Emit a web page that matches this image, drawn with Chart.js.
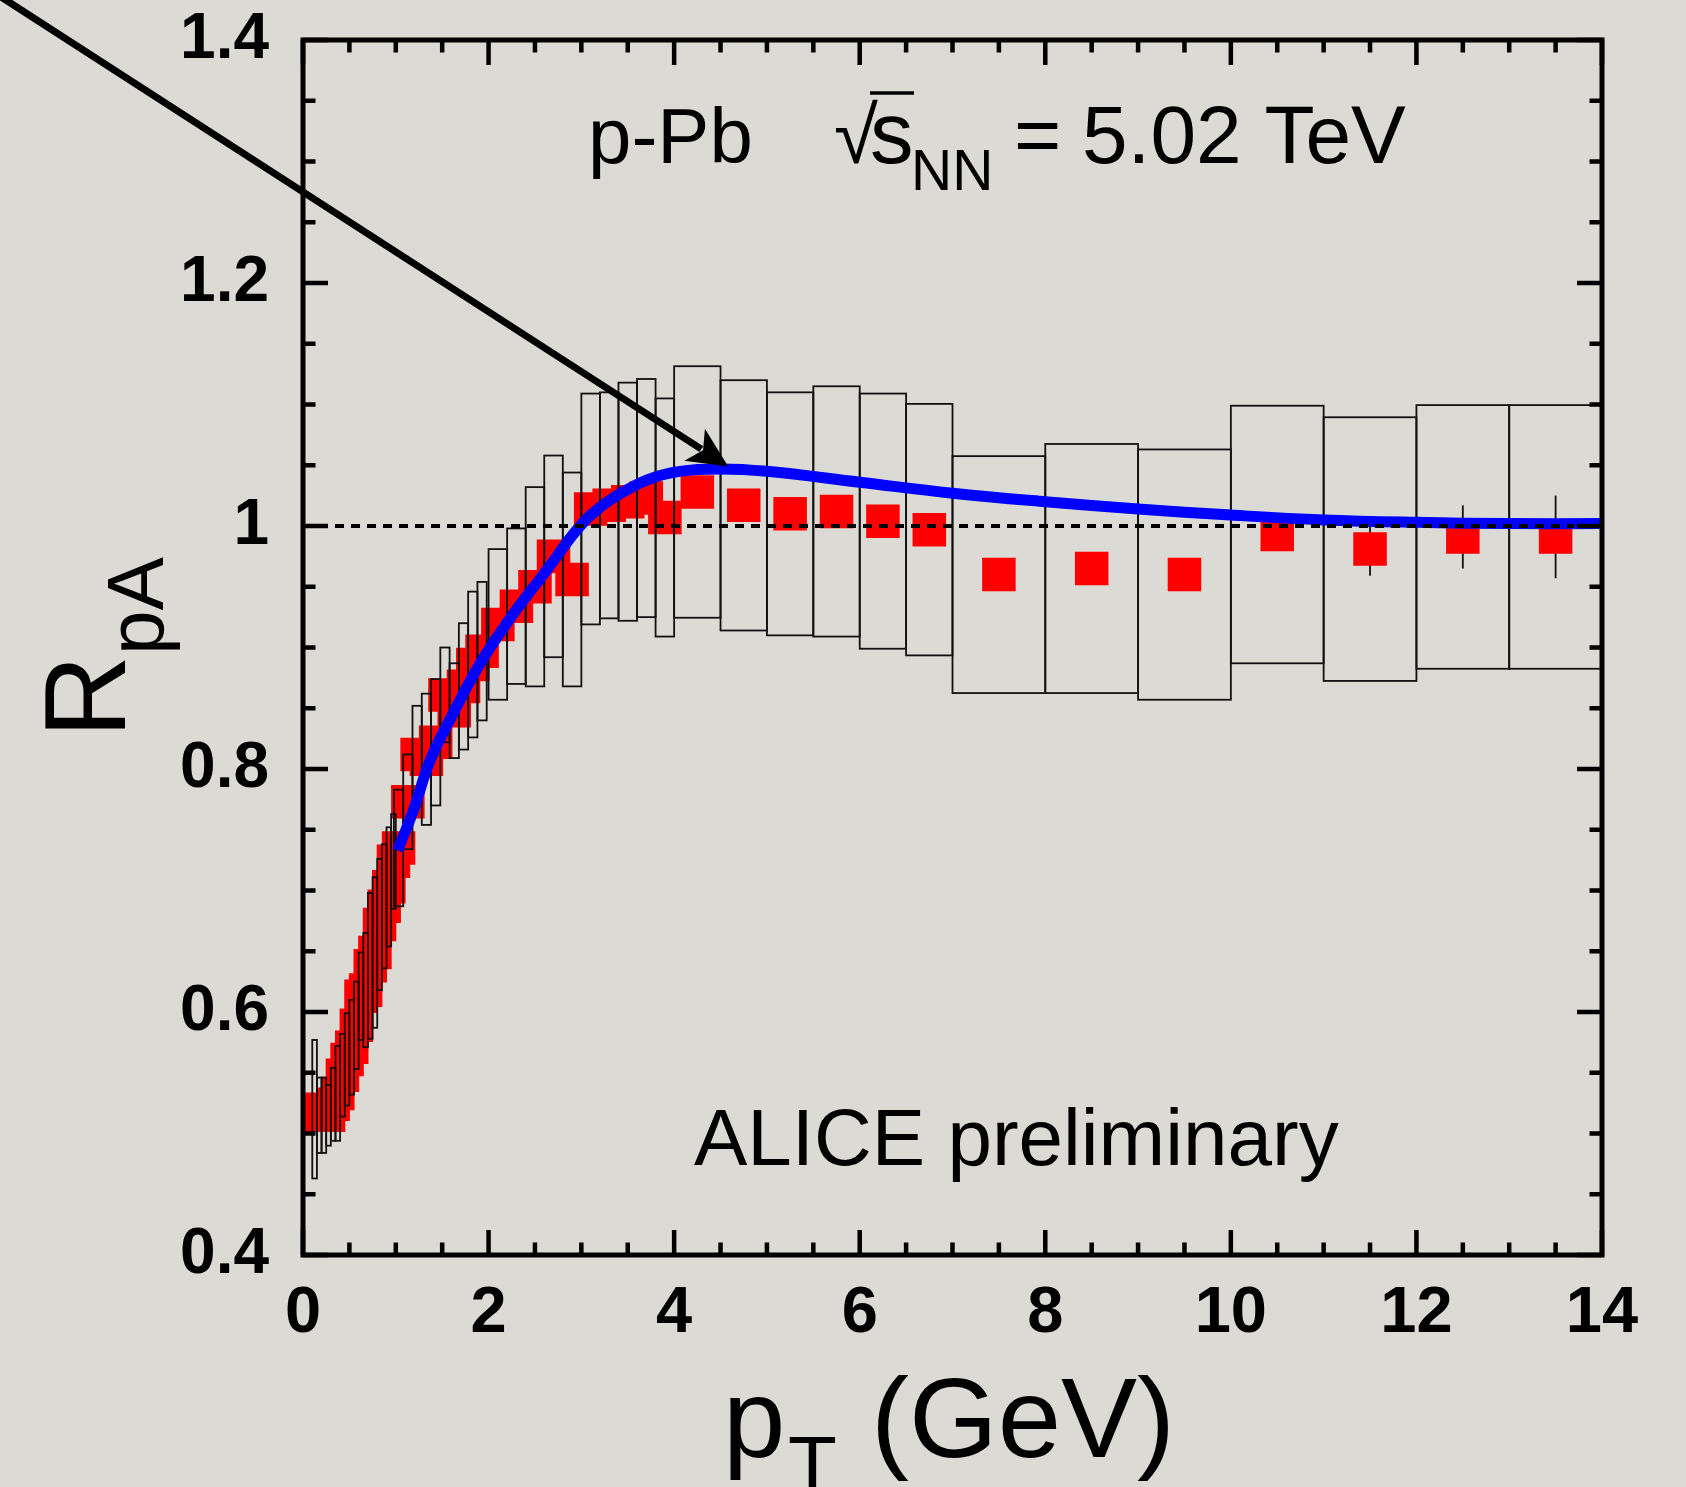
<!DOCTYPE html>
<html><head><meta charset="utf-8">
<script src="https://cdn.jsdelivr.net/npm/chart.js@4.4.1/dist/chart.umd.min.js"></script>
<style>html,body{margin:0;padding:0;background:#dcdad4;} canvas{display:block;}</style>
</head><body>
<canvas id="c" width="1686" height="1487"></canvas>
<script>
// ---------- data ----------
const ptCenters = [0.125,0.175,0.225,0.275,0.325,0.375,0.425,0.475,0.525,0.575,0.625,0.675,0.725,0.775,0.825,0.875,0.925,0.975,
  1.03,1.13,1.23,1.33,1.43,1.53,1.63,1.73,1.83,1.93,
  2.1,2.3,2.5,2.7,2.9,3.1,3.3,3.5,3.7,3.9,
  4.25,4.75,5.25,5.75,6.25,6.75,
  7.5,8.5,9.5,10.5,11.5,12.5,13.5];
const binWidths = [0.05,0.05,0.05,0.05,0.05,0.05,0.05,0.05,0.05,0.05,0.05,0.05,0.05,0.05,0.05,0.05,0.05,0.05,
  0.1,0.1,0.1,0.1,0.1,0.1,0.1,0.1,0.1,0.1,
  0.2,0.2,0.2,0.2,0.2,0.2,0.2,0.2,0.2,0.2,
  0.5,0.5,0.5,0.5,0.5,0.5,
  1,1,1,1,1,1,1];
const rpaValues = [0.520,0.515,0.515,0.515,0.524,0.533,0.548,0.561,0.571,0.589,0.613,0.618,0.638,0.649,0.672,0.687,0.703,0.724,
  0.735,0.773,0.812,0.808,0.822,0.861,0.848,0.868,0.886,0.897,
  0.919,0.934,0.950,0.975,0.956,1.014,1.017,1.020,1.023,1.007,
  1.028,1.017,1.010,1.012,1.004,0.997,
  0.960,0.965,0.960,0.993,0.981,0.991,0.991];
const statErrors = [0.003,0.003,0.003,0.003,0.003,0.003,0.003,0.003,0.003,0.003,0.003,0.003,0.003,0.003,0.003,0.003,0.003,0.003,
  0.003,0.003,0.003,0.003,0.003,0.003,0.003,0.003,0.003,0.003,
  0.004,0.004,0.004,0.004,0.004,0.004,0.004,0.005,0.005,0.005,
  0.005,0.006,0.006,0.007,0.007,0.008,
  0.008,0.009,0.010,0.012,0.022,0.026,0.034];
const systErrors = [0.057,0.031,0.031,0.025,0.030,0.039,0.034,0.038,0.039,0.036,0.036,0.047,0.060,0.062,0.054,0.051,0.049,0.039,
  0.048,0.039,0.040,0.054,0.052,0.039,0.039,0.052,0.060,0.057,
  0.062,0.064,0.082,0.083,0.088,0.095,0.093,0.098,0.098,0.098,
  0.1035,0.103,0.100,0.103,0.105,0.1035,
  0.0975,0.1025,0.103,0.106,0.1085,0.1085,0.1085];
const theoryPt  = [1.02,1.19,1.37,1.62,1.91,2.27,2.63,2.91,3.1,3.34,3.71,4.06,4.49,5.0,6.0,7.0,8.0,9.0,10,11,12,13,14];
const theoryRpA = [0.733,0.766,0.807,0.846,0.887,0.928,0.964,0.993,1.009,1.023,1.038,1.045,1.047,1.045,1.036,1.027,1.020,1.014,1.009,1.005,1.003,1.002,1.002];
const unityPt  = [0, 13.7];
const unityRpA = [1, 1];
const arrowFrom = [-3.265, 1.436];
const arrowTo   = [4.583, 1.049];
const xTickLabels = ['0','2','4','6','8','10','12','14'];
const yTickLabels = ['0.4','0.6','0.8','1','1.2','1.4'];

// ---------- style ----------
const BG = '#dcdad4';
const FONT = "'Liberation Sans', Arial, Helvetica, sans-serif";
Chart.defaults.font.family = FONT;

const bgPlugin = {
  id: 'bg',
  beforeDraw(chart) {
    const c = chart.ctx; c.save(); c.fillStyle = BG; c.fillRect(0, 0, chart.width, chart.height); c.restore();
  }
};

const errPlugin = {
  id: 'errs',
  beforeDatasetDraw(chart, args) {
    if (args.index !== 2) return;
    const {ctx, chartArea: a, scales: {x, y}} = chart;
    ctx.save();
    ctx.beginPath(); ctx.rect(a.left, a.top, a.right - a.left, a.bottom - a.top); ctx.clip();
    ctx.strokeStyle = '#111'; ctx.lineWidth = 1.8;
    ptCenters.forEach((p, i) => {
      const px = x.getPixelForValue(p);
      ctx.beginPath();
      ctx.moveTo(px, y.getPixelForValue(rpaValues[i] - statErrors[i]));
      ctx.lineTo(px, y.getPixelForValue(rpaValues[i] + statErrors[i]));
      ctx.stroke();
    });
    ctx.restore();
  },
  afterDatasetDraw(chart, args) {
    if (args.index !== 2) return;
    const {ctx, chartArea: a, scales: {x, y}} = chart;
    ctx.save();
    ctx.beginPath(); ctx.rect(a.left, a.top, a.right - a.left, a.bottom - a.top); ctx.clip();
    ctx.strokeStyle = '#111'; ctx.lineWidth = 1.8;
    ptCenters.forEach((p, i) => {
      const x0 = x.getPixelForValue(p - binWidths[i] / 2), x1 = x.getPixelForValue(p + binWidths[i] / 2);
      const y0 = y.getPixelForValue(rpaValues[i] + systErrors[i]), y1 = y.getPixelForValue(rpaValues[i] - systErrors[i]);
      ctx.strokeRect(x0, y0, x1 - x0, y1 - y0);
    });
    ctx.restore();
  }
};

const framePlugin = {
  id: 'frame',
  afterDatasetsDraw(chart) {
    const {ctx, chartArea: a, scales: {x, y}} = chart;
    ctx.save();
    ctx.strokeStyle = '#000';
    ctx.lineWidth = 4.5;
    ctx.lineCap = 'butt';
    const xMinorStep = 0.5, xMajorStep = 2, yMinorStep = 0.05, yMajorStep = 0.2;
    for (let k = 0; k <= Math.round((x.max - x.min) / xMinorStep); k++) {
      const v = x.min + k * xMinorStep;
      const major = Math.abs(v / xMajorStep - Math.round(v / xMajorStep)) < 1e-6;
      const len = major ? 25 : 12.5;
      const px = x.getPixelForValue(v);
      ctx.beginPath();
      ctx.moveTo(px, a.bottom); ctx.lineTo(px, a.bottom - len);
      ctx.moveTo(px, a.top); ctx.lineTo(px, a.top + len);
      ctx.stroke();
    }
    for (let k = 0; k <= Math.round((y.max - y.min) / yMinorStep); k++) {
      const v = y.min + k * yMinorStep;
      const major = Math.abs((v - y.min) / yMajorStep - Math.round((v - y.min) / yMajorStep)) < 1e-6;
      const len = major ? 25 : 12.5;
      const py = y.getPixelForValue(v);
      ctx.beginPath();
      ctx.moveTo(a.left, py); ctx.lineTo(a.left + len, py);
      ctx.moveTo(a.right, py); ctx.lineTo(a.right - len, py);
      ctx.stroke();
    }
    ctx.lineWidth = 5;
    ctx.strokeRect(a.left, a.top, a.right - a.left, a.bottom - a.top);
    ctx.restore();
  }
};

function txt(ctx, s, x, y, size, weight) {
  ctx.font = (weight || 'normal') + ' ' + size + 'px ' + FONT;
  ctx.fillText(s, x, y);
  return ctx.measureText(s).width;
}

const annPlugin = {
  id: 'ann',
  afterDraw(chart) {
    const {ctx, scales: {x, y}} = chart;
    ctx.save();
    // arrow
    const x0 = x.getPixelForValue(arrowFrom[0]), y0 = y.getPixelForValue(arrowFrom[1]);
    const x1 = x.getPixelForValue(arrowTo[0]), y1 = y.getPixelForValue(arrowTo[1]);
    const ang = Math.atan2(y1 - y0, x1 - x0);
    const ux = Math.cos(ang), uy = Math.sin(ang), nx = -uy, ny = ux;
    const L = 40, W = 19, N = 30;
    ctx.strokeStyle = '#000'; ctx.fillStyle = '#000'; ctx.lineWidth = 7;
    ctx.beginPath(); ctx.moveTo(x0, y0); ctx.lineTo(x1 - ux * (N + 2), y1 - uy * (N + 2)); ctx.stroke();
    ctx.beginPath();
    ctx.moveTo(x1, y1);
    ctx.lineTo(x1 - ux * L + nx * W, y1 - uy * L + ny * W);
    ctx.lineTo(x1 - ux * N, y1 - uy * N);
    ctx.lineTo(x1 - ux * L - nx * W, y1 - uy * L - ny * W);
    ctx.closePath(); ctx.fill();

    ctx.fillStyle = '#000';
    ctx.textBaseline = 'alphabetic';
    ctx.textAlign = 'left';
    // top label
    txt(ctx, 'p-Pb', 588, 163, 78);
    txt(ctx, '\u221A', 834, 163, 80);
    txt(ctx, 's', 870, 163, 87);
    ctx.lineWidth = 3.5;
    ctx.beginPath(); ctx.moveTo(870, 93); ctx.lineTo(914, 93); ctx.stroke();
    txt(ctx, 'NN', 911, 190, 57);
    txt(ctx, '=', 1014, 163, 81);
    txt(ctx, '5.02 TeV', 1082, 163, 82);
    // ALICE preliminary
    txt(ctx, 'ALICE preliminary', 694, 1165, 80);
    // x title
    txt(ctx, 'p', 723, 1457, 112);
    txt(ctx, 'T', 788, 1492, 80);
    txt(ctx, '(GeV)', 871, 1457, 114);
    // y title
    ctx.save();
    ctx.translate(125, 738);
    ctx.rotate(-Math.PI / 2);
    const wR = txt(ctx, 'R', 0, 0, 115);
    ctx.restore();
    ctx.save();
    ctx.translate(163, 738 - wR);
    ctx.rotate(-Math.PI / 2);
    txt(ctx, 'pA', 0, 0, 80);
    ctx.restore();
    ctx.restore();
  }
};

const ctx = document.getElementById('c').getContext('2d');
new Chart(ctx, {
  type: 'scatter',
  data: {
    datasets: [
      { label: 'unity', type: 'line', data: unityPt.map((v, i) => ({x: v, y: unityRpA[i]})),
        borderColor: '#000', borderWidth: 4, borderDash: [9, 7], pointRadius: 0, fill: false, clip: 0, order: 0 },
      { label: 'theory', type: 'line', data: theoryPt.map((v, i) => ({x: v, y: theoryRpA[i]})),
        borderColor: '#0000ff', borderWidth: 11, pointRadius: 0, fill: false, tension: 0.4,
        clip: 0, order: 1 },
      { label: 'ALICE preliminary', data: ptCenters.map((v, i) => ({x: v, y: rpaValues[i]})),
        pointStyle: 'rect', pointRadius: 23.7, pointHoverRadius: 23.7, backgroundColor: '#ff0000',
        borderWidth: 0, clip: 0, order: 2 }
    ]
  },
  options: {
    responsive: false, animation: false, devicePixelRatio: 1,
    events: [],
    layout: { padding: { top: 40, right: 84, left: 0, bottom: 0 } },
    plugins: { legend: { display: false }, tooltip: { enabled: false } },
    scales: {
      x: {
        type: 'linear', min: 0, max: 14, position: 'bottom',
        afterFit: s => { s.height = 232; s.paddingLeft = 0; s.paddingRight = 0; },
        grid: { drawOnChartArea: false, drawTicks: false },
        border: { display: false },
        ticks: { stepSize: 2, padding: 20, maxRotation: 0, autoSkip: false, color: '#000',
          font: { size: 65, weight: 'bold', family: FONT },
          callback: (v, i) => xTickLabels[i] }
      },
      y: {
        type: 'linear', min: 0.4, max: 1.4,
        afterFit: s => { s.width = 303; s.paddingTop = 0; s.paddingBottom = 0; },
        grid: { drawOnChartArea: false, drawTicks: false },
        border: { display: false },
        ticks: { stepSize: 0.2, padding: 34, autoSkip: false, color: '#000',
          font: { size: 64, weight: 'bold', family: FONT },
          callback: (v, i) => yTickLabels[i] }
      }
    }
  },
  plugins: [bgPlugin, errPlugin, framePlugin, annPlugin]
});
</script>
</body></html>
